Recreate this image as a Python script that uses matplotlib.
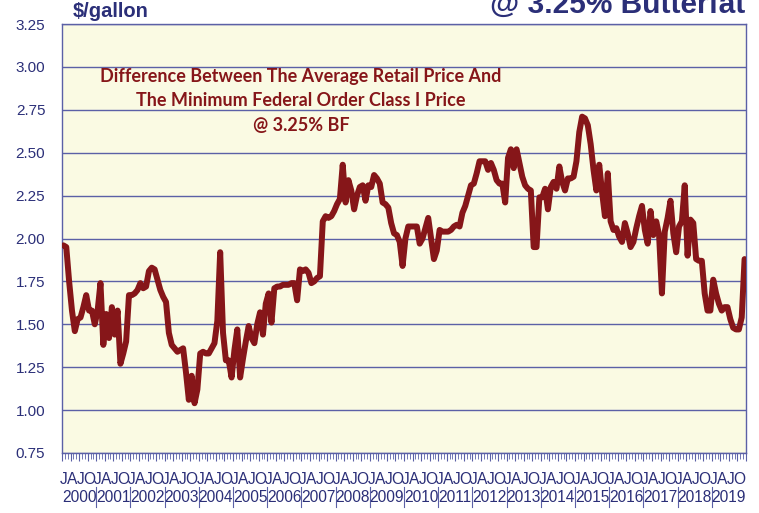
"""
Difference between average retail milk price and minimum Federal Order
Class I price at 3.25% butterfat, monthly 2000-2019.
"""

import matplotlib

matplotlib.use("Agg")
import matplotlib.pyplot as plt
import matplotlib.transforms as mtransforms
import numpy as np

# monthly values, $/gallon
diff_2000_2004 = [
    1.96, 1.95, 1.75, 1.58, 1.46, 1.53, 1.54, 1.60, 1.67, 1.58, 1.58, 1.50,
    1.58, 1.74, 1.38, 1.56, 1.42, 1.60, 1.44, 1.58, 1.27, 1.33, 1.40, 1.67,
    1.67, 1.68, 1.70, 1.74, 1.71, 1.72, 1.81, 1.83, 1.82, 1.76, 1.70, 1.66,
    1.63, 1.45, 1.38, 1.36, 1.34, 1.35, 1.36, 1.22, 1.06, 1.20, 1.04, 1.12,
    1.33, 1.34, 1.33, 1.33, 1.36, 1.39, 1.52, 1.92, 1.45, 1.29, 1.29, 1.19,
]
diff_2005_2009 = [
    1.35, 1.47, 1.19, 1.30, 1.40, 1.49, 1.42, 1.39, 1.50, 1.57, 1.44, 1.62,
    1.68, 1.51, 1.71, 1.72, 1.72, 1.73, 1.73, 1.73, 1.74, 1.74, 1.64, 1.82,
    1.81, 1.82, 1.80, 1.74, 1.75, 1.77, 1.78, 2.10, 2.13, 2.12, 2.13, 2.16,
    2.20, 2.23, 2.43, 2.21, 2.34, 2.28, 2.17, 2.25, 2.30, 2.31, 2.22, 2.31,
    2.30, 2.37, 2.35, 2.32, 2.21, 2.20, 2.18, 2.09, 2.03, 2.02, 1.98, 1.84,
]
diff_2010_2014 = [
    2.00, 2.07, 2.07, 2.07, 2.07, 1.97, 2.00, 2.06, 2.12, 2.00, 1.88, 1.93,
    2.05, 2.04, 2.04, 2.04, 2.05, 2.07, 2.08, 2.07, 2.15, 2.19, 2.25, 2.31,
    2.32, 2.38, 2.45, 2.45, 2.45, 2.40, 2.44, 2.40, 2.34, 2.32, 2.32, 2.21,
    2.47, 2.52, 2.41, 2.52, 2.44, 2.36, 2.31, 2.29, 2.28, 1.95, 1.95, 2.24,
    2.24, 2.29, 2.17, 2.30, 2.33, 2.29, 2.42, 2.33, 2.28, 2.35, 2.35, 2.36,
]
diff_2015_2019 = [
    2.45, 2.62, 2.71, 2.70, 2.66, 2.55, 2.40, 2.28, 2.43, 2.27, 2.13, 2.38,
    2.10, 2.05, 2.06, 2.01, 1.98, 2.09, 2.03, 1.95, 1.98, 2.06, 2.13, 2.19,
    2.05, 1.97, 2.16, 2.02, 2.10, 2.02, 1.68, 2.04, 2.12, 2.22, 2.03, 1.92,
    2.07, 2.10, 2.31, 1.90, 2.11, 2.09, 1.88, 1.87, 1.87, 1.68, 1.58, 1.58,
    1.76, 1.68, 1.62, 1.58, 1.60, 1.60, 1.53, 1.48, 1.47, 1.47, 1.54, 1.88,
]

years = list(range(2000, 2020))
quarter_letters = ["J", "A", "J", "O"]
y_ticks = [0.75, 1.00, 1.25, 1.50, 1.75, 2.00, 2.25, 2.50, 2.75, 3.00, 3.25]

NAVY = "#2b2f78"
GRID = "#5b60a6"
LINE = "#861619"
PLOT_BG = "#fafae3"

plt.rcParams["font.family"] = ["Liberation Sans", "DejaVu Sans"]

values = np.array(diff_2000_2004 + diff_2005_2009 + diff_2010_2014 + diff_2015_2019)
n_months = len(values)
x = np.arange(n_months) + 0.5

fig = plt.figure(figsize=(7.59, 5.13), dpi=100)
ax = fig.add_axes([62 / 759, 1 - 453 / 513, 684 / 759, 429 / 513])
ax.set_facecolor(PLOT_BG)

ax.plot(x, values, color=LINE, lw=4.3, solid_joinstyle="round", solid_capstyle="round", zorder=3)

ax.set_xlim(0, n_months)
ax.set_ylim(0.75, 3.25)
ax.set_yticks(y_ticks)
ax.set_yticklabels([f"{v:.2f}" for v in y_ticks])
ax.tick_params(axis="y", length=0, pad=12, labelsize=11, labelcolor=NAVY)
ax.yaxis.grid(True, color=GRID, lw=1.0)
ax.set_axisbelow(True)

for side in ["left", "right", "top", "bottom"]:
    ax.spines[side].set_color(GRID)
    ax.spines[side].set_linewidth(1.0)

# monthly tick marks, slightly longer every quarter
ax.set_xticks(np.arange(0, n_months + 1, 3))
ax.set_xticks(np.arange(0, n_months + 1), minor=True)
ax.set_xticklabels([])
ax.tick_params(axis="x", which="major", length=6, color=GRID, direction="out")
ax.tick_params(axis="x", which="minor", length=4, color=GRID, direction="out")

trans = mtransforms.blended_transform_factory(ax.transData, ax.transAxes)
for i, year in enumerate(years):
    start = i * 12
    for q, letter in enumerate(quarter_letters):
        ax.text(start + q * 3 + 0.5, -0.061, letter, transform=trans, ha="center",
                va="center", fontsize=11.2, color=NAVY)
    ax.text(start + 6, -0.103, str(year), transform=trans, ha="center",
            va="center", fontsize=11.2, color=NAVY)
    if i > 0:
        ax.plot([start, start], [-0.08, -0.125], transform=trans, color=GRID,
                lw=0.8, clip_on=False)

fig.text(73 / 759, 1 - 17 / 513, "$/gallon", ha="left", va="baseline",
         fontsize=14.5, fontweight="bold", color=NAVY)
fig.text(745 / 759, 1 - 13 / 513, "@ 3.25% Butterfat", ha="right", va="baseline",
         fontsize=21.5, fontweight="bold", color=NAVY)

note = ("Difference Between The Average Retail Price And\n"
        "The Minimum Federal Order Class I Price\n"
        "@ 3.25% BF")
fig.text(301 / 759, 1 - 101 / 513, note, ha="center", va="center",
         fontsize=13, fontweight="bold", color=LINE, family=["Lato", "DejaVu Sans"],
         linespacing=1.52)

fig.savefig("out.png", dpi=100)
